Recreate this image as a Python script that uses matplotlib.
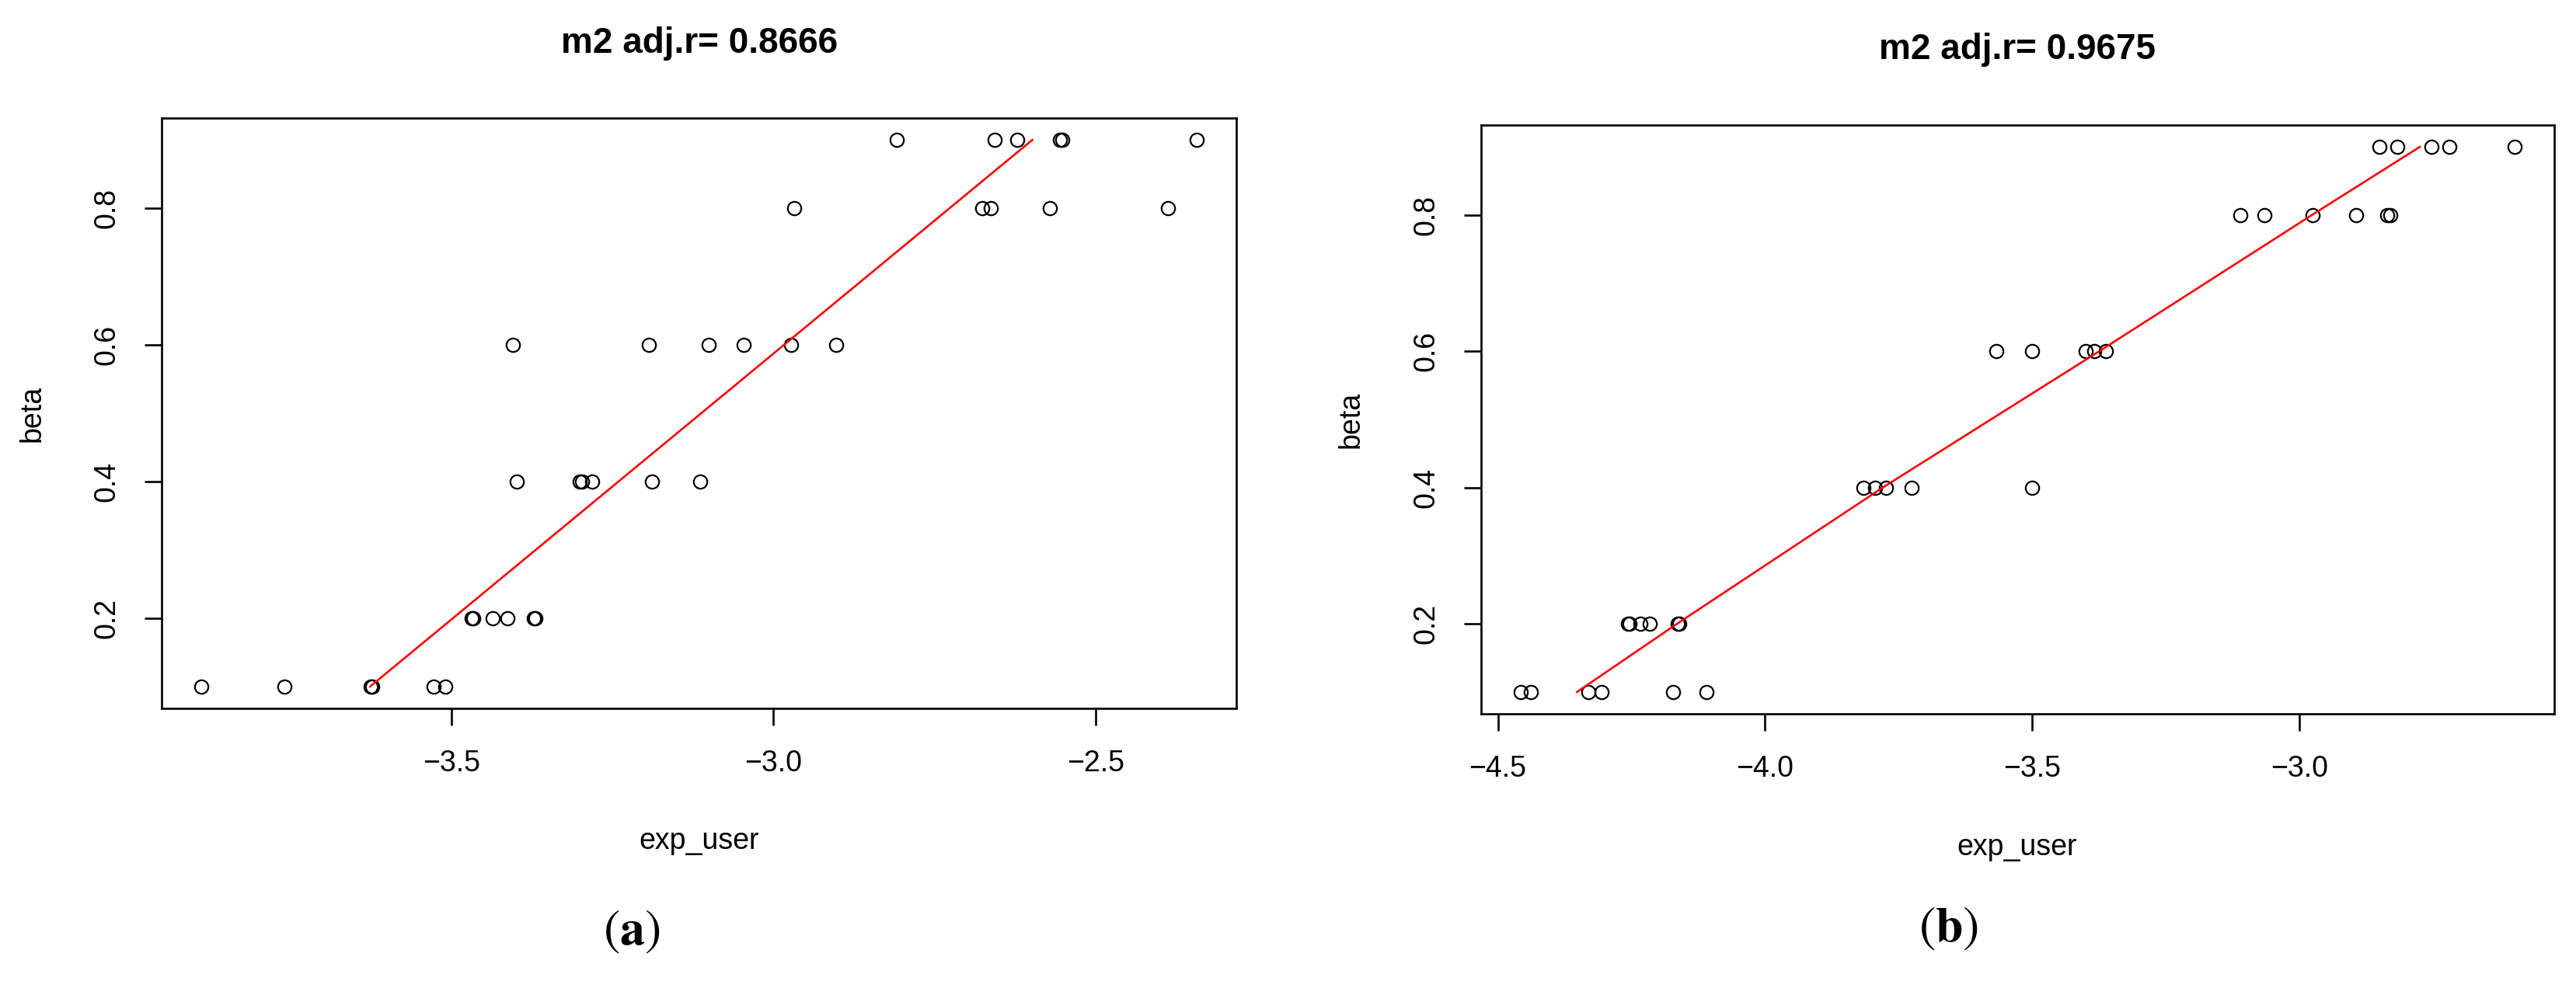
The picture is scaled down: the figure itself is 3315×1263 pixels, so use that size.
import numpy as np
import matplotlib
matplotlib.use("Agg")
import matplotlib.pyplot as plt

plt.rcParams['font.family'] = ['Liberation Sans', 'DejaVu Sans']
plt.rcParams['mathtext.fontset'] = 'stix'

# panel (a): exp_user values grouped by beta level
a_beta_levels = [0.9, 0.8, 0.6, 0.4, 0.2, 0.1]
a_x = [
    [-2.809, -2.656, -2.621, -2.555, -2.552, -2.343],
    [-2.968, -2.676, -2.662, -2.571, -2.387],
    [-3.405, -3.193, -3.101, -3.046, -2.973, -2.902],
    [-3.398, -3.301, -3.297, -3.281, -3.188, -3.114],
    [-3.469, -3.466, -3.436, -3.413, -3.372, -3.369],
    [-3.888, -3.759, -3.625, -3.623, -3.528, -3.509],
]
a_fit_beta = [0.1, 0.9]
a_fit_x = [-3.626, -2.598]

# panel (b)
b_beta_levels = [0.9, 0.8, 0.6, 0.4, 0.2, 0.1]
b_x = [
    [-2.851, -2.817, -2.753, -2.720, -2.598],
    [-3.111, -3.066, -2.976, -2.894, -2.836, -2.831],
    [-3.568, -3.501, -3.400, -3.384, -3.362],
    [-3.816, -3.795, -3.774, -3.726, -3.501],
    [-4.256, -4.253, -4.233, -4.216, -4.164, -4.160],
    [-4.457, -4.439, -4.331, -4.306, -4.172, -4.110],
]
b_fit_beta = [0.1, 0.2, 0.4, 0.6, 0.8, 0.9]
b_fit_x = [-4.352, -4.165, -3.780, -3.375, -2.977, -2.775]

titles = ["m2 adj.r= 0.8666", "m2 adj.r= 0.9675"]
xticks_a = [-3.5, -3.0, -2.5]
xticks_b = [-4.5, -4.0, -3.5, -3.0]
yticks = [0.2, 0.4, 0.6, 0.8]

W, H = 3316, 1263
fig = plt.figure(figsize=(W / 100, H / 100), dpi=100)


def px_axes(l, t, r, b):
    return fig.add_axes([l / W, 1 - b / H, (r - l) / W, (b - t) / H])


def r_lim(vals):
    lo, hi = min(vals), max(vals)
    d = 0.04 * (hi - lo)
    return lo - d, hi + d


def draw(ax, levels, xs, fit_beta, fit_x, xticks):
    allx, ally = [], []
    for lev, row in zip(levels, xs):
        allx += row
        ally += [lev] * len(row)
    ax.plot(allx, ally, 'o', ms=12.5, mfc='none', mec='black', mew=1.6)
    ax.plot(fit_x, fit_beta, color='red', lw=1.9)
    ax.set_xlim(*r_lim(allx))
    ax.set_ylim(*r_lim(ally))
    ax.set_xticks(xticks)
    ax.set_xticklabels([f"{v:.1f}".replace('-', '\u2212') for v in xticks])
    ax.set_yticks(yticks)
    ax.set_yticklabels([f"{v:.1f}" for v in yticks], rotation=90, va='center')
    ax.tick_params(direction='out', length=16, width=1.9, labelsize=27, pad=22)
    for s in ax.spines.values():
        s.set_linewidth(1.9)


ax1 = px_axes(208, 152, 1591, 912)
draw(ax1, a_beta_levels, a_x, a_fit_beta, a_fit_x, xticks_a)
ax2 = px_axes(1906, 161, 3287, 919)
draw(ax2, b_beta_levels, b_x, b_fit_beta, b_fit_x, xticks_b)

# titles, axis labels, panel letters
fig.text(900 / W, 1 - 56 / H, titles[0], ha='center', va='center', fontsize=33, fontweight='bold')
fig.text(2596 / W, 1 - 64 / H, titles[1], ha='center', va='center', fontsize=33, fontweight='bold')
fig.text(900 / W, 1 - 1083 / H, "exp_user", ha='center', va='center', fontsize=27)
fig.text(2596 / W, 1 - 1091 / H, "exp_user", ha='center', va='center', fontsize=27)
fig.text(42 / W, 1 - 532 / H, "beta", ha='center', va='center', rotation=90, fontsize=27)
fig.text(1739 / W, 1 - 540 / H, "beta", ha='center', va='center', rotation=90, fontsize=27)
fig.text(813 / W, 1 - 1200 / H, r"($\mathbf{a}$)", ha='center', va='center', fontsize=46, family='STIXGeneral')
fig.text(2508 / W, 1 - 1196 / H, r"($\mathbf{b}$)", ha='center', va='center', fontsize=46, family='STIXGeneral')

fig.savefig("out.png", dpi=100)
